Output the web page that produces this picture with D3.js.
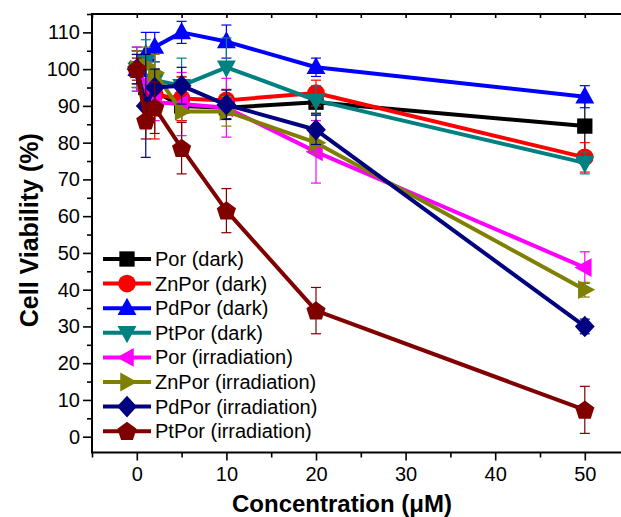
<!DOCTYPE html>
<html>
<head>
<meta charset="utf-8">
<script src="https://cdn.jsdelivr.net/npm/d3@7"></script>
<style>
  body { margin: 0; background: #fff; }
  svg { display: block; font-family: Arial, "Liberation Sans", sans-serif; }
</style>
</head>
<body>
<div id="chart"></div>
<script>
// DATA
const conc = [0, 1, 2, 5, 10, 20, 50];
const seriesNames = ['Por (dark)', 'ZnPor (dark)', 'PdPor (dark)', 'PtPor (dark)',
  'Por (irradiation)', 'ZnPor (irradiation)', 'PdPor (irradiation)', 'PtPor (irradiation)'];
const seriesColors = ['#000000', '#ff0000', '#0000ff', '#008080', '#ff00ff', '#808000', '#000080', '#800000'];
const seriesSymbols = ['square', 'circle', 'up', 'down', 'left', 'right', 'diamond', 'pentagon'];

const porDark     = [100, 95, 94, 90, 89.5, 91, 84.5];
const znPorDark   = [100, 95, 93, 92, 91.5, 93.5, 76];
const pdPorDark   = [100, 104, 106, 110, 107.5, 100.5, 92.5];
const ptPorDark   = [100, 102, 97, 95.5, 100.5, 91.5, 74.5];
const porIrr      = [100, 96, 91, 90.5, 89.5, 77.5, 46];
const znPorIrr    = [100, 101, 99, 88.5, 88.5, 80, 40];
const pdPorIrr    = [100, 90, 95, 95.5, 90.3, 83.5, 30];
const ptPorIrr    = [100, 86, 89.5, 78.5, 61.5, 34.3, 7.3];

const porDarkErr   = [5, 8, 6, 4, 3, 3, 7.5];
const znPorDarkErr = [4, 8, 12, 6, 3, 3.5, 4];
const pdPorDarkErr = [5, 6, 4, 3, 4.5, 2.5, 3];
const ptPorDarkErr = [6, 6, 5, 7.5, 8, 4, 3];
const porIrrErr    = [6, 6, 5, 8.6, 8, 8.5, 4.3];
const znPorIrrErr  = [5, 5, 5, 9.3, 4, 3, 2];
const pdPorIrrErr  = [4, 14, 5, 5, 4, 4, 2];
const ptPorIrrErr  = [3, 5, 7, 7, 6, 6.3, 6.4];

const allValues = [porDark, znPorDark, pdPorDark, ptPorDark, porIrr, znPorIrr, pdPorIrr, ptPorIrr];
const allErrors = [porDarkErr, znPorDarkErr, pdPorDarkErr, ptPorDarkErr, porIrrErr, znPorIrrErr, pdPorIrrErr, ptPorIrrErr];

const yMajor = d3.range(0, 111, 10);
const yMinor = d3.range(5, 116, 10);
const xMajor = [0, 10, 20, 30, 40, 50];
const xMinor = [-5, 5, 15, 25, 35, 45, 55];

// SIZES
const width = 621, height = 517;
const plotLeft = 92, plotBottom = 452.5, plotTop = 14, plotRight = 629.6;

const x = d3.scaleLinear().domain([-5, 55]).range([plotLeft, plotRight]);
const y = d3.scaleLinear().domain([-4.3, 115]).range([plotBottom, plotTop]);

const svg = d3.select('#chart').append('svg')
  .attr('width', width).attr('height', height);

// FRAME AND AXES
const yAxis = svg.append('g').attr('transform', `translate(${plotLeft},0)`)
  .call(d3.axisLeft(y).tickValues(yMajor).tickSize(9).tickPadding(3).tickFormat(d3.format('d')));
const yAxisMinor = svg.append('g').attr('transform', `translate(${plotLeft},0)`)
  .call(d3.axisLeft(y).tickValues(yMinor).tickSize(5).tickFormat(''));
const xAxis = svg.append('g').attr('transform', `translate(0,${plotBottom})`)
  .call(d3.axisBottom(x).tickValues(xMajor).tickSize(8).tickPadding(6).tickFormat(d3.format('d')));
const xAxisMinor = svg.append('g').attr('transform', `translate(0,${plotBottom})`)
  .call(d3.axisBottom(x).tickValues(xMinor).tickSize(5).tickFormat(''));
const xTop = svg.append('g').attr('transform', `translate(0,${plotTop})`)
  .call(d3.axisTop(x).tickValues(xMajor.concat(xMinor)).tickSize(-4).tickFormat(''));

[yAxis, yAxisMinor, xAxis, xAxisMinor, xTop].forEach(g => {
  g.select('.domain').remove();
  g.selectAll('line').attr('stroke', '#000').attr('stroke-width', 1.6);
  g.selectAll('text').attr('font-size', 20).attr('fill', '#000')
    .attr('font-family', 'Arial, "Liberation Sans", sans-serif');
});

svg.append('path')
  .attr('d', `M${plotRight},${plotTop}H${plotLeft}V${plotBottom}H${plotRight}`)
  .attr('fill', 'none').attr('stroke', '#000').attr('stroke-width', 2);

// AXIS TITLES
svg.append('text')
  .attr('transform', `translate(31,${(plotTop + plotBottom) / 2 - 3})rotate(-90)`)
  .attr('text-anchor', 'middle').attr('dominant-baseline', 'middle')
  .attr('font-size', 25).attr('font-weight', 'bold')
  .text('Cell Viability (%)');

svg.append('text')
  .attr('x', 342).attr('y', 512)
  .attr('text-anchor', 'middle')
  .attr('font-size', 24).attr('font-weight', 'bold')
  .text('Concentration (\u03bcM)');

// SYMBOLS
const symbolPath = (type, s) => {
  const pts = {
    square: [[-1, -1], [1, -1], [1, 1], [-1, 1]].map(p => [p[0] * s * 0.85, p[1] * s * 0.85]),
    up: [[0, -1.15], [1.05, 0.75], [-1.05, 0.75]].map(p => [p[0] * s, p[1] * s]),
    down: [[0, 1.15], [1.05, -0.75], [-1.05, -0.75]].map(p => [p[0] * s, p[1] * s]),
    left: [[-1.15, 0], [0.75, -1.05], [0.75, 1.05]].map(p => [p[0] * s, p[1] * s]),
    right: [[1.15, 0], [-0.75, -1.05], [-0.75, 1.05]].map(p => [p[0] * s, p[1] * s]),
    diamond: [[0, -1.2], [1.1, 0], [0, 1.2], [-1.1, 0]].map(p => [p[0] * s, p[1] * s]),
    pentagon: d3.range(5).map(i => {
      const a = -Math.PI / 2 + i * 2 * Math.PI / 5;
      return [Math.cos(a) * s * 1.12, Math.sin(a) * s * 1.12 + s * 0.08];
    })
  };
  if (type === 'circle') {
    const r = s * 0.98;
    return `M${-r},0A${r},${r} 0 1,0 ${r},0A${r},${r} 0 1,0 ${-r},0Z`;
  }
  return 'M' + pts[type].map(p => p.join(',')).join('L') + 'Z';
};

const line = d3.line().x(d => x(d.c)).y(d => y(d.v));

// SERIES
allValues.forEach((vals, i) => {
  const color = seriesColors[i];
  const pts = conc.map((c, j) => ({ c: c, v: vals[j], e: allErrors[i][j] }));
  const g = svg.append('g');

  g.append('path').datum(pts)
    .attr('d', line)
    .attr('fill', 'none').attr('stroke', color).attr('stroke-width', 4)
    .attr('stroke-linejoin', 'round');

  const eb = g.selectAll('.err').data(pts).enter().append('g');
  eb.append('line')
    .attr('x1', d => x(d.c)).attr('x2', d => x(d.c))
    .attr('y1', d => y(d.v + d.e)).attr('y2', d => y(d.v - d.e))
    .attr('stroke', color).attr('stroke-width', 1.2);
  eb.append('line')
    .attr('x1', d => x(d.c) - 5).attr('x2', d => x(d.c) + 5)
    .attr('y1', d => y(d.v + d.e)).attr('y2', d => y(d.v + d.e))
    .attr('stroke', color).attr('stroke-width', 1.2);
  eb.append('line')
    .attr('x1', d => x(d.c) - 5).attr('x2', d => x(d.c) + 5)
    .attr('y1', d => y(d.v - d.e)).attr('y2', d => y(d.v - d.e))
    .attr('stroke', color).attr('stroke-width', 1.2);

  g.selectAll('.sym').data(pts).enter().append('path')
    .attr('transform', d => `translate(${x(d.c)},${y(d.v)})`)
    .attr('d', symbolPath(seriesSymbols[i], 9))
    .attr('fill', color);
});

// LEGEND
const legend = svg.append('g').attr('transform', 'translate(103,259)');
seriesNames.forEach((name, i) => {
  const row = legend.append('g').attr('transform', `translate(0,${i * 24.6})`);
  row.append('line')
    .attr('x1', 0).attr('x2', 48).attr('y1', 0).attr('y2', 0)
    .attr('stroke', seriesColors[i]).attr('stroke-width', 4);
  row.append('path')
    .attr('transform', 'translate(24,0)')
    .attr('d', symbolPath(seriesSymbols[i], 9))
    .attr('fill', seriesColors[i]);
  row.append('text')
    .attr('x', 52).attr('y', 0).attr('dy', '0.35em')
    .attr('font-size', 20)
    .text(name);
});
</script>
</body>
</html>
